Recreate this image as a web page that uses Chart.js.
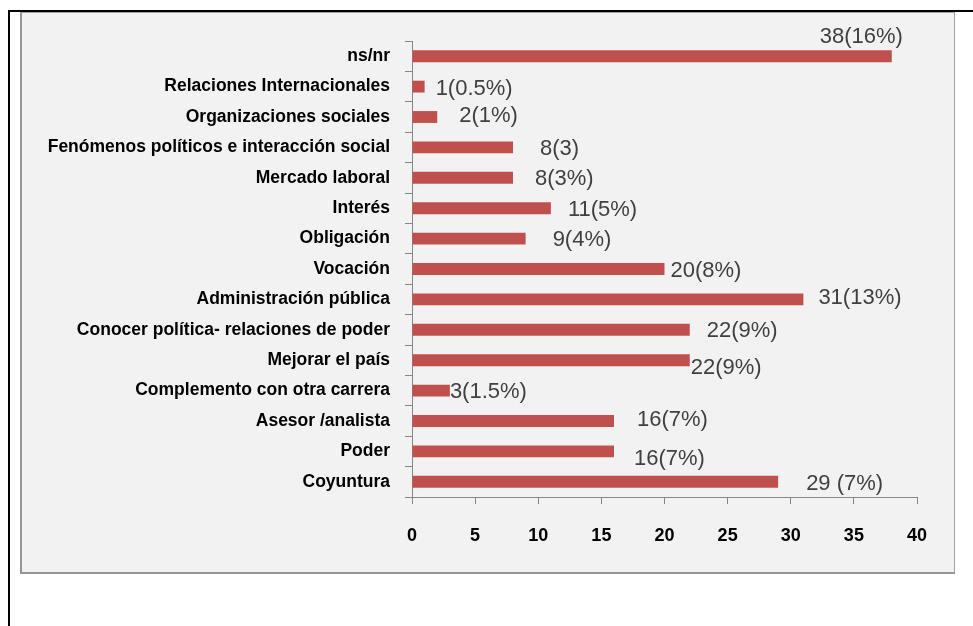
<!DOCTYPE html>
<html>
<head>
<meta charset="utf-8">
<script src="https://cdn.jsdelivr.net/npm/chart.js@4.4.1/dist/chart.umd.min.js"></script>
<style>
  body { margin: 0; background: #fff; }
  .wrap { position: relative; width: 973px; height: 626px; overflow: hidden; }
  .frame-top { position: absolute; left: 8px; top: 10px; width: 965px; height: 2px; background: #000; }
  .frame-left { position: absolute; left: 8px; top: 10px; width: 2px; height: 616px; background: #000; }
  .box {
    position: absolute; left: 20px; top: 12px; width: 932px; height: 559px;
    background: #f2f2f2; border: 1px solid #a0a0a0; border-left: 2px solid #969696; border-bottom: 2px solid #969696;
  }
  canvas { position: absolute; left: 0; top: 0; }
</style>
</head>
<body>
<div class="wrap">
  <div class="frame-top"></div>
  <div class="frame-left"></div>
  <div class="box"></div>
  <canvas id="myChart" width="973" height="626"></canvas>
</div>
<script>
const categories = [
  "ns/nr",
  "Relaciones Internacionales",
  "Organizaciones sociales",
  "Fenómenos políticos e interacción social",
  "Mercado laboral",
  "Interés",
  "Obligación",
  "Vocación",
  "Administración pública",
  "Conocer política- relaciones de poder",
  "Mejorar el país",
  "Complemento con otra carrera",
  "Asesor /analista",
  "Poder",
  "Coyuntura",
];
const values = [38, 1, 2, 8, 8, 11, 9, 20, 31, 22, 22, 3, 16, 16, 29];
const valueLabels = [
  "38(16%)", "1(0.5%)", "2(1%)", "8(3)", "8(3%)", "11(5%)", "9(4%)", "20(8%)",
  "31(13%)", "22(9%)", "22(9%)", "3(1.5%)", "16(7%)", "16(7%)", "29 (7%)",
];
const xTicks = [0, 5, 10, 15, 20, 25, 30, 35, 40];

// where each value label sits relative to the end of its bar (px)
const labelDx = [-72, 11, 22, 27, 22, 17, 27, 6, 15, 17, 1, 0, 23, 20, 28];
const labelDy = [-19, 2, -1, 2, 1, 1.5, 1, 2, -1, 1.5, 7.5, 1.5, -1, 8, 2];

const barLabels = {
  id: "barLabels",
  afterDatasetsDraw(chart) {
    const ctx = chart.ctx;
    const meta = chart.getDatasetMeta(0);
    ctx.save();
    ctx.font = "22px 'Liberation Sans', Arial, sans-serif";
    ctx.fillStyle = "#404040";
    ctx.textAlign = "left";
    ctx.textBaseline = "middle";
    meta.data.forEach((bar, i) => {
      ctx.fillText(valueLabels[i], bar.x + labelDx[i], bar.y + labelDy[i]);
    });
    ctx.restore();
  },
};

new Chart(document.querySelector("#myChart"), {
  type: "bar",
  data: {
    labels: categories,
    datasets: [
      {
        data: values,
        backgroundColor: "#c0504d",
        borderWidth: 0,
        barPercentage: 0.39,
        categoryPercentage: 1,
      },
    ],
  },
  options: {
    indexAxis: "y",
    responsive: false,
    animation: false,
    layout: { padding: { top: 41, right: 56, bottom: 69, left: 0 } },
    plugins: {
      legend: { display: false },
      tooltip: { enabled: false },
    },
    scales: {
      y: {
        offset: true,
        grid: {
          offset: true,
          drawOnChartArea: false,
          drawTicks: true,
          tickLength: 7,
          color: "#868686",
        },
        border: { color: "#868686" },
        ticks: {
          color: "#000",
          padding: 15,
          font: { family: "'Liberation Sans', Arial, sans-serif", size: 17.5, weight: "bold" },
        },
        afterFit: (scale) => {
          scale.width = 412;
        },
      },
      x: {
        min: xTicks[0],
        max: xTicks[xTicks.length - 1],
        afterBuildTicks: (scale) => {
          scale.ticks = xTicks.map((v) => ({ value: v }));
        },
        grid: {
          drawOnChartArea: false,
          drawTicks: true,
          tickLength: 7,
          color: "#868686",
        },
        border: { color: "#868686" },
        ticks: {
          color: "#000",
          padding: 21,
          font: { family: "'Liberation Sans', Arial, sans-serif", size: 18, weight: "bold" },
        },
        afterFit: (scale) => {
          scale.height = 60;
        },
      },
    },
  },
  plugins: [barLabels],
});
</script>
</body>
</html>
